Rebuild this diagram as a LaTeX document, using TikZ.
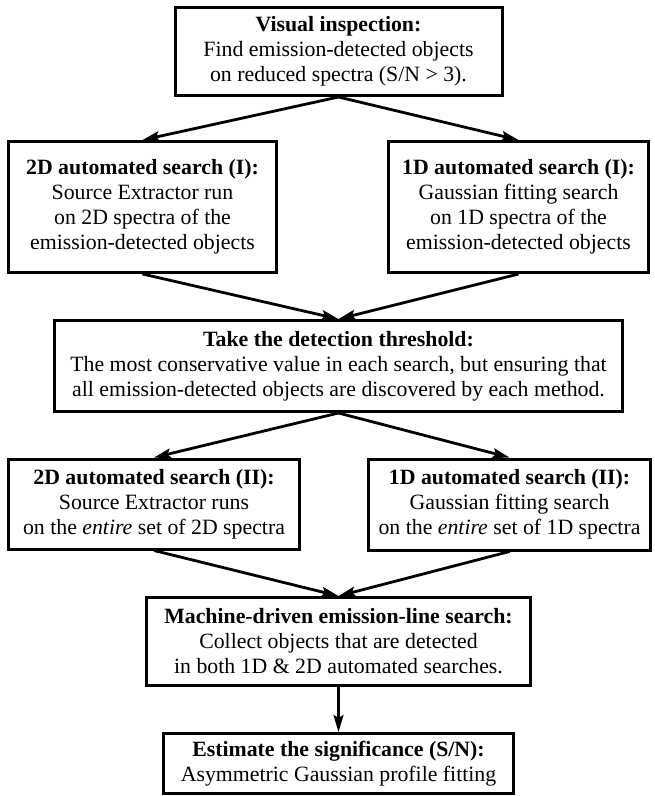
\documentclass[tikz,border=0pt]{standalone}
\usepackage{fontspec}
\setmainfont{Liberation Serif}
\usepackage{xcolor}
\usetikzlibrary{arrows.meta}
\usetikzlibrary{math}
\tikzset{
  stepbox/.style={draw, line width=3pt, align=center, inner sep=0pt,
    font=\fontsize{21.8}{25}\selectfont},
  flow/.style={-{Stealth[length=17pt,width=10pt,inset=3pt]}, line width=2.8pt}
}

\begin{document}
\begin{tikzpicture}[x=1pt,y=-1pt]
\tikzmath{
\lw=3;
\xm=338.5;
}
\useasboundingbox (0,0) rectangle (654,796);

%boxes
\node[stepbox,minimum width=330-\lw,minimum height=91-\lw] (vis) at (\xm,51.5)
  {\textbf{Visual inspection:}\\Find emission-detected objects\\on reduced spectra (S/N > 3).};
\node[stepbox,minimum width=271-\lw,minimum height=134-\lw] (twoDa) at (142.5,207)
  {\textbf{2D automated search (I):}\\Source Extractor run\\on 2D spectra of the\\emission-detected objects};
\node[stepbox,minimum width=263-\lw,minimum height=134-\lw] (oneDa) at (518.5,207)
  {\textbf{1D automated search (I):}\\Gaussian fitting search\\on 1D spectra of the\\emission-detected objects};
\node[stepbox,minimum width=571-\lw,minimum height=94-\lw] (thresh) at (\xm,366)
  {\textbf{Take the detection threshold:}\\The most conservative value in each search, but ensuring that\\all emission-detected objects are discovered by each method.};
\node[stepbox,minimum width=294-\lw,minimum height=93-\lw] (twoDb) at (154,504)
  {\textbf{2D automated search (II):}\\Source Extractor runs\\on the \textit{entire} set of 2D spectra};
\node[stepbox,minimum width=285-\lw,minimum height=94-\lw] (oneDb) at (509.5,504.5)
  {\textbf{1D automated search (II):}\\Gaussian fitting search\\on the \textit{entire} set of 1D spectra};
\node[stepbox,minimum width=387-\lw,minimum height=91-\lw] (machine) at (\xm,641.5)
  {\textbf{Machine-driven emission-line search:}\\Collect objects that are detected\\in both 1D \& 2D automated searches.};
\node[stepbox,minimum width=353-\lw,minimum height=63-\lw] (signif) at (\xm,763.5)
  {\textbf{Estimate the significance (S/N):}\\Asymmetric Gaussian profile fitting};

%arrows
\draw[flow] (vis.south) -- (twoDa.north);
\draw[flow] (vis.south) -- (oneDa.north);
\draw[flow] (twoDa.south) -- (thresh.north);
\draw[flow] (oneDa.south) -- (thresh.north);
\draw[flow] (thresh.south) -- (twoDb.north);
\draw[flow] (thresh.south) -- (oneDb.north);
\draw[flow] (twoDb.south) -- (machine.north);
\draw[flow] (oneDb.south) -- (machine.north);
\draw[flow] (machine.south) -- (signif.north);

\end{tikzpicture}
\end{document}
